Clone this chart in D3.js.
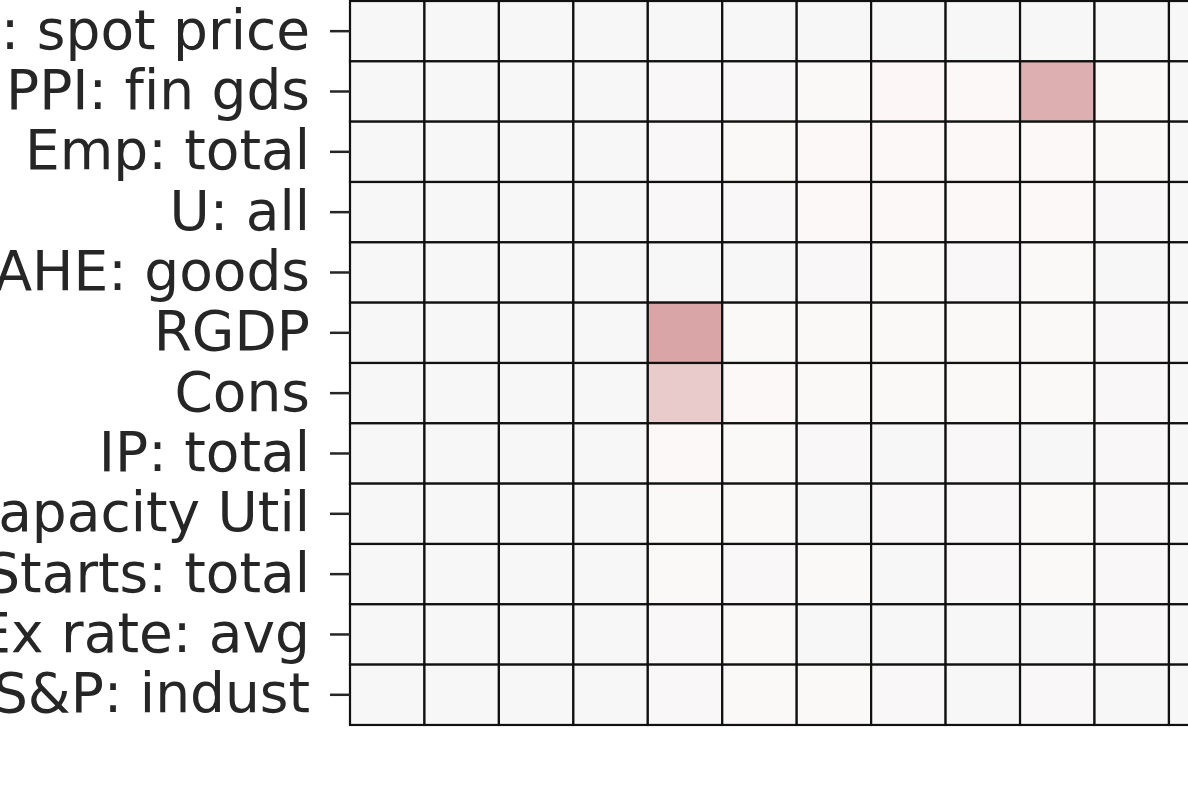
<!DOCTYPE html>
<html>
<head>
<meta charset="utf-8">
<script src="https://cdn.jsdelivr.net/npm/d3@7"></script>
<style>
  html, body { margin: 0; padding: 0; background: #ffffff; overflow: hidden; }
  svg { display: block; }
</style>
</head>
<body>
<svg id="chart" width="1188" height="801"></svg>
<script>
// ---- data ----
const rows = ["Comm: spot price", "PPI: fin gds", "Emp: total", "U: all", "AHE: goods",
              "RGDP", "Cons", "IP: total", "Capacity Util", "HStarts: total",
              "Ex rate: avg", "S&P: indust"];
const columns = ["1", "2", "3", "4", "5", "6", "7", "8", "9", "10", "11", "12"];
const valComm   = [0, 0, 0, 0, 0, 0, 0, 0, 0, 0, 0, 0];
const valPPI    = [0, 0, 0, 0, 0.02, 0.02, 0.03, 0.06, 0.04, 0.41, 0.03, 0];
const valEmp    = [0, 0, 0, 0, 0.02, 0.03, 0.04, 0.04, 0.04, 0.04, 0.03, 0];
const valU      = [0, 0, 0, 0, 0.02, 0.02, 0.04, 0.04, 0.04, 0.04, 0.02, 0];
const valAHE    = [0, 0, 0, 0, 0.01, 0.01, 0.02, 0.03, 0.02, 0.03, 0.01, 0];
const valRGDP   = [0, 0, 0, 0, 0.46, 0.03, 0.03, 0.03, 0.03, 0.03, 0.02, 0];
const valCons   = [0, 0, 0, 0, 0.27, 0.04, 0.03, 0.03, 0.03, 0.03, 0.02, 0];
const valIP     = [0, 0, 0, 0, 0.04, 0.03, 0.02, 0.01, 0.02, 0.01, 0.02, 0];
const valCapU   = [0, 0, 0, 0, 0.03, 0.03, 0.01, 0.02, 0.02, 0.03, 0.02, 0];
const valStarts = [0, 0, 0, 0, 0.03, 0.02, 0.03, 0.01, 0.02, 0.03, 0.02, 0];
const valExRate = [0, 0, 0, 0, 0.02, 0.03, 0.01, 0.01, 0.01, 0.01, 0.02, 0];
const valSP     = [0, 0, 0, 0, 0.02, 0.03, 0.03, 0.02, 0.01, 0.02, 0.01, 0];
const values = [valComm, valPPI, valEmp, valU, valAHE, valRGDP, valCons, valIP,
                valCapU, valStarts, valExRate, valSP];

// ---- drawing ----
const svg = d3.select("#chart");
const plotLeft = 350, plotTop = 1, cellW = 74.45, cellH = 60.33;

const x = d3.scaleBand().domain(columns).range([plotLeft, plotLeft + cellW * columns.length]).padding(0);
const y = d3.scaleBand().domain(rows).range([plotTop, plotTop + cellH * rows.length]).padding(0);
const color = d3.scaleLinear().domain([-1, 0, 0.05, 1])
  .range(["#2369bd", "#f7f7f7", "#fdf8f8", "#a9373b"]).interpolate(d3.interpolateRgb);

const cells = [];
rows.forEach((r, i) => columns.forEach((c, j) => cells.push({ r, c, v: values[i][j] })));

svg.append("g").selectAll("rect").data(cells).join("rect")
  .attr("x", d => x(d.c))
  .attr("y", d => y(d.r))
  .attr("width", x.bandwidth())
  .attr("height", y.bandwidth())
  .attr("fill", d => color(d.v))
  .attr("stroke", "#111111")
  .attr("stroke-width", 2.2);

const yAxis = d3.axisLeft(y).tickSize(20).tickPadding(20);
const gy = svg.append("g").attr("transform", `translate(${plotLeft},0)`).call(yAxis);
gy.select(".domain").remove();
gy.selectAll(".tick line").attr("stroke", "#262626").attr("stroke-width", 2.5);
gy.selectAll(".tick text")
  .attr("fill", "#262626")
  .style("font-family", "'DejaVu Sans', sans-serif")
  .style("font-variant-ligatures", "none")
  .style("font-size", "55px");
</script>
</body>
</html>
